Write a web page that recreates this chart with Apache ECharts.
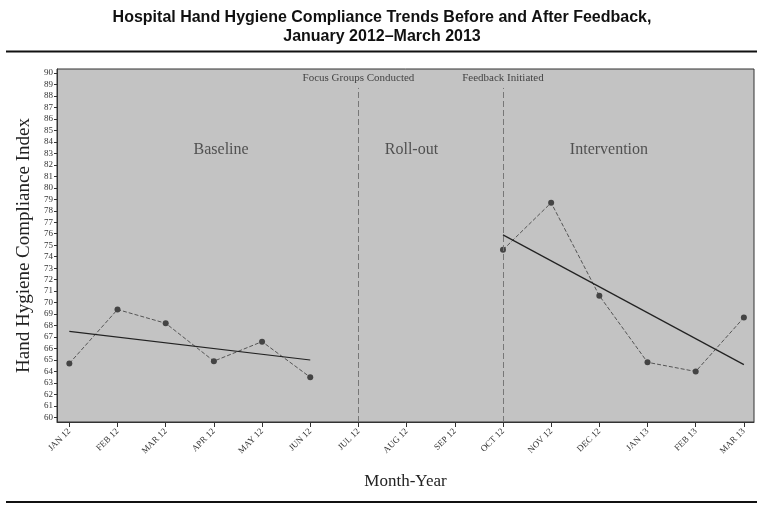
<!DOCTYPE html>
<html>
<head>
<meta charset="utf-8">
<script src="https://cdn.jsdelivr.net/npm/echarts@6/dist/echarts.min.js"></script>
<style>html,body{margin:0;padding:0;background:#fff;}#chart{width:764px;height:510px;}</style>
</head>
<body>
<div id="chart"></div>
<script>
var months = ['JAN 12','FEB 12','MAR 12','APR 12','MAY 12','JUN 12','JUL 12','AUG 12','SEP 12','OCT 12','NOV 12','DEC 12','JAN 13','FEB 13','MAR 13'];
var xTicks = [0,1,2,3,4,5,6,7,8,9,10,11,12,13,14];
var yTicks = [60,61,62,63,64,65,66,67,68,69,70,71,72,73,74,75,76,77,78,79,80,81,82,83,84,85,86,87,88,89,90];
var baselineIdx = [0,1,2,3,4,5];
var baselineVals = [64.7,69.4,68.2,64.9,66.6,63.5];
var interventionIdx = [9,10,11,12,13,14];
var interventionVals = [74.6,78.7,70.6,64.8,64.0,68.7];
var baselineTrendIdx = [0,5];
var baselineTrendVals = [67.5,65.0];
var interventionTrendIdx = [9,14];
var interventionTrendVals = [75.9,64.6];
var eventIdx = [6,9];
var eventLabels = ['Focus Groups Conducted','Feedback Initiated'];
var phaseIdx = [3.15,7.1,11.2];
var phaseLabels = ['Baseline','Roll-out','Intervention'];
var phaseY = 83.3;

function pairs(xs, ys){ return xs.map(function(x,i){ return [x, ys[i]]; }); }

var chart = echarts.init(document.getElementById('chart'));
var serif = '"Liberation Serif", "DejaVu Serif", serif';

var yMin = 59.6, yMax = 90.35;

var option = {
  backgroundColor: '#ffffff',
  animation: false,
  title: {
    text: 'Hospital Hand Hygiene Compliance Trends Before and After Feedback,\nJanuary 2012\u2013March 2013',
    left: 'center', top: 3,
    textStyle: { fontFamily: '"Liberation Sans", Arial, sans-serif', fontWeight: 'bold', fontSize: 16, lineHeight: 19, color: '#111' }
  },
  graphic: [
    { type: 'line', shape: { x1: 6, y1: 51.5, x2: 757, y2: 51.5 }, style: { stroke: '#111', lineWidth: 2 } },
    { type: 'line', shape: { x1: 6, y1: 502, x2: 757, y2: 502 }, style: { stroke: '#111', lineWidth: 2 } }
  ],
  grid: {
    left: 57, right: 10, top: 69, bottom: 88,
    outerBoundsMode: 'none', containLabel: false,
    show: true, backgroundColor: '#c3c3c3', borderColor: '#333', borderWidth: 1
  },
  xAxis: {
    type: 'value', min: -0.256, max: 14.21,
    name: 'Month-Year', nameLocation: 'middle', nameGap: 51,
    nameTextStyle: { fontFamily: serif, fontSize: 17, color: '#222' },
    axisLine: { show: true, onZero: false, lineStyle: { color: '#333' } },
    axisTick: { show: true, length: 5, lineStyle: { color: '#333' }, customValues: xTicks },
    axisLabel: { customValues: xTicks, rotate: 45, fontFamily: serif, fontSize: 9, color: '#333', margin: 8,
      formatter: function(v){ return months[Math.round(v)]; } },
    splitLine: { show: false }
  },
  yAxis: {
    type: 'value', min: yMin, max: yMax,
    name: 'Hand Hygiene Compliance Index', nameLocation: 'middle', nameGap: 21,
    nameTextStyle: { fontFamily: serif, fontSize: 19, color: '#222' },
    axisLine: { show: true, onZero: false, lineStyle: { color: '#333' } },
    axisTick: { show: true, length: 3, lineStyle: { color: '#333' }, customValues: yTicks },
    axisLabel: { customValues: yTicks, fontFamily: serif, fontSize: 9, color: '#333', margin: 4 },
    splitLine: { show: false }
  },
  series: [
    {
      type: 'line', data: pairs(baselineIdx, baselineVals),
      lineStyle: { color: '#555', width: 1, type: [4,2] },
      symbol: 'circle', symbolSize: 6, itemStyle: { color: '#444' },
      markLine: {
        silent: true, symbol: 'none',
        lineStyle: { color: '#777', width: 1, type: [6,3] },
        label: { show: false },
        data: eventIdx.map(function(x){ return [{ coord: [x, yMin] }, { coord: [x, 88.7] }]; })
      }
    },
    {
      type: 'line', data: pairs(interventionIdx, interventionVals),
      lineStyle: { color: '#555', width: 1, type: [4,2] },
      symbol: 'circle', symbolSize: 6, itemStyle: { color: '#444' }
    },
    {
      type: 'line', data: pairs(baselineTrendIdx, baselineTrendVals),
      lineStyle: { color: '#222', width: 1.2 }, symbol: 'none'
    },
    {
      type: 'line', data: pairs(interventionTrendIdx, interventionTrendVals),
      lineStyle: { color: '#222', width: 1.2 }, symbol: 'none'
    },
    {
      type: 'scatter', symbolSize: 0, silent: true,
      data: eventIdx.map(function(x,i){ return { value: [x, 89.6], name: eventLabels[i] }; }),
      label: { show: true, position: 'inside', formatter: function(p){ return p.name; },
        fontFamily: serif, fontSize: 11, color: '#222' }
    },
    {
      type: 'scatter', symbolSize: 0, silent: true,
      data: phaseIdx.map(function(x,i){ return { value: [x, phaseY], name: phaseLabels[i] }; }),
      label: { show: true, position: 'inside', formatter: function(p){ return p.name; },
        fontFamily: serif, fontSize: 16, color: '#333' }
    }
  ]
};
chart.setOption(option);
</script>
</body>
</html>
